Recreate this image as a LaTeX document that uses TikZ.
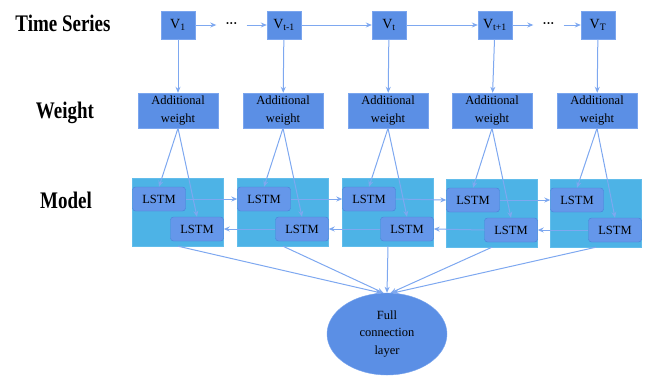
\documentclass[tikz,border=0pt]{standalone}
\usepackage{fontspec}
\setmainfont{Liberation Serif}
\usetikzlibrary{arrows.meta,shapes.geometric,positioning}
\definecolor{boxblue}{HTML}{5B8FE5}
\definecolor{boxedge}{HTML}{7AA5EE}
\definecolor{modelcyan}{HTML}{4DB3E6}
\definecolor{modeledge}{HTML}{62BDEB}
\definecolor{lstmblue}{HTML}{6597EA}
\definecolor{lstmedge}{HTML}{4A7FD8}
\definecolor{arrowblue}{HTML}{7EA8F0}
\tikzset{
  heading/.style={font=\fontsize{19}{22}\selectfont\bfseries, anchor=base},
  vbox/.style={draw=boxedge, fill=boxblue, minimum width=34pt, minimum height=28pt, inner sep=0pt, font=\fontsize{14}{16}\selectfont},
  wbox/.style={draw=boxedge, fill=boxblue, minimum width=80pt, minimum height=35pt, inner sep=0pt, align=center, font=\fontsize{12.5}{17.5}\selectfont},
  modelbox/.style={draw=modeledge, fill=modelcyan, minimum width=91pt, minimum height=68pt, inner sep=0pt},
  lstm/.style={draw=lstmedge, fill=lstmblue, rounded corners=3pt, minimum width=53pt, minimum height=24pt, inner sep=0pt, font=\fontsize{12.5}{15}\selectfont},
  dots/.style={inner xsep=9pt, inner ysep=0pt, font=\fontsize{12}{14}\selectfont\bfseries},
  fcl/.style={ellipse, draw=boxedge, fill=boxblue, minimum width=120pt, minimum height=82pt, inner sep=0pt, align=center, font=\fontsize{12.5}{17.5}\selectfont},
  arr/.style={-{Stealth[length=6pt,width=5pt]}, draw=arrowblue, line width=1pt},
}
\begin{document}
\begin{tikzpicture}[x=1pt, y=-1pt]
\useasboundingbox (0,0) rectangle (650,376);
% Titulos
\node[heading] (tts) at (63,31) {\scalebox{1}[1.25]{Time Series}};
\node[heading] (tw) at (65,118) {\scalebox{1}[1.25]{Weight}};
\node[heading] (tm) at (66,208) {\scalebox{1}[1.25]{Model}};
% Serie temporal
\node[vbox] (v1) at (178,25) {V\textsubscript{1}};
\node[vbox] (v2) at (284,25) {V\textsubscript{t-1}};
\node[vbox] (v3) at (389,25) {V\textsubscript{t}};
\node[vbox] (v4) at (495,25) {V\textsubscript{t+1}};
\node[vbox] (v5) at (598,25) {V\textsubscript{T}};
\node[dots] (d1) at (231.5,25) {···};
\node[dots] (d2) at (548.5,25) {···};
\draw[arr] (v1) -- (d1);
\draw[arr] (d1) -- (v2);
\draw[arr] (v2) -- (v3);
\draw[arr] (v3) -- (v4);
\draw[arr] (v4) -- (d2);
\draw[arr] (d2) -- (v5);
% Pesos
\node[wbox] (w1) at (178,110.5) {Additional\\weight};
\node[wbox] (w2) at (283,110.5) {Additional\\weight};
\node[wbox] (w3) at (388,110.5) {Additional\\weight};
\node[wbox] (w4) at (492,110.5) {Additional\\weight};
\node[wbox] (w5) at (597,110.5) {Additional\\weight};
\draw[arr] (v1) -- (w1);
\draw[arr] (v2) -- (w2);
\draw[arr] (v3) -- (w3);
\draw[arr] (v4) -- (w4);
\draw[arr] (v5) -- (w5);
% Modelo
\node[modelbox] (m1) at (178,212) {};
\node[modelbox] (m2) at (283,212) {};
\node[modelbox] (m3) at (388,212) {};
\node[modelbox] (m4) at (492,213) {};
\node[modelbox] (m5) at (596,213) {};
\node[lstm, anchor=west] (u1) at ([yshift=13pt]m1.west) {LSTM};
\node[lstm, anchor=west] (u2) at ([yshift=13pt]m2.west) {LSTM};
\node[lstm, anchor=west] (u3) at ([yshift=13pt]m3.west) {LSTM};
\node[lstm, anchor=west] (u4) at ([yshift=13pt]m4.west) {LSTM};
\node[lstm, anchor=west] (u5) at ([yshift=13pt]m5.west) {LSTM};
\node[lstm, anchor=east] (l1) at ([yshift=-17pt]m1.east) {LSTM};
\node[lstm, anchor=east] (l2) at ([yshift=-17pt]m2.east) {LSTM};
\node[lstm, anchor=east] (l3) at ([yshift=-17pt]m3.east) {LSTM};
\node[lstm, anchor=east] (l4) at ([yshift=-17pt]m4.east) {LSTM};
\node[lstm, anchor=east] (l5) at ([yshift=-17pt]m5.east) {LSTM};
% Peso a LSTM
\draw[arr] (w1.south) -- (u1.north);
\draw[arr] (w1.south) -- (l1.north);
\draw[arr] (w2.south) -- (u2.north);
\draw[arr] (w2.south) -- (l2.north);
\draw[arr] (w3.south) -- (u3.north);
\draw[arr] (w3.south) -- (l3.north);
\draw[arr] (w4.south) -- (u4.north);
\draw[arr] (w4.south) -- (l4.north);
\draw[arr] (w5.south) -- (u5.north);
\draw[arr] (w5.south) -- (l5.north);
% Hacia adelante
\draw[arr] (u1.east) -- (u2.west);
\draw[arr] (u2.east) -- (u3.west);
\draw[arr] (u3.east) -- (u4.west);
\draw[arr] (u4.east) -- (u5.west);
% Hacia atras
\draw[arr] (l2.west) -- (l1.east);
\draw[arr] (l3.west) -- (l2.east);
\draw[arr] (l4.west) -- (l3.east);
\draw[arr] (l5.west) -- (l4.east);
% Capa completa
\node[fcl] (fc) at (387,334) {Full\\connection\\layer};
\draw[arr] (m1.south) -- (fc.98);
\draw[arr] (m2.south) -- (fc.95);
\draw[arr] (m3.south) -- (fc.north);
\draw[arr] (m4.south) -- (fc.85);
\draw[arr] (m5.south) -- (fc.82);
\end{tikzpicture}
\end{document}
